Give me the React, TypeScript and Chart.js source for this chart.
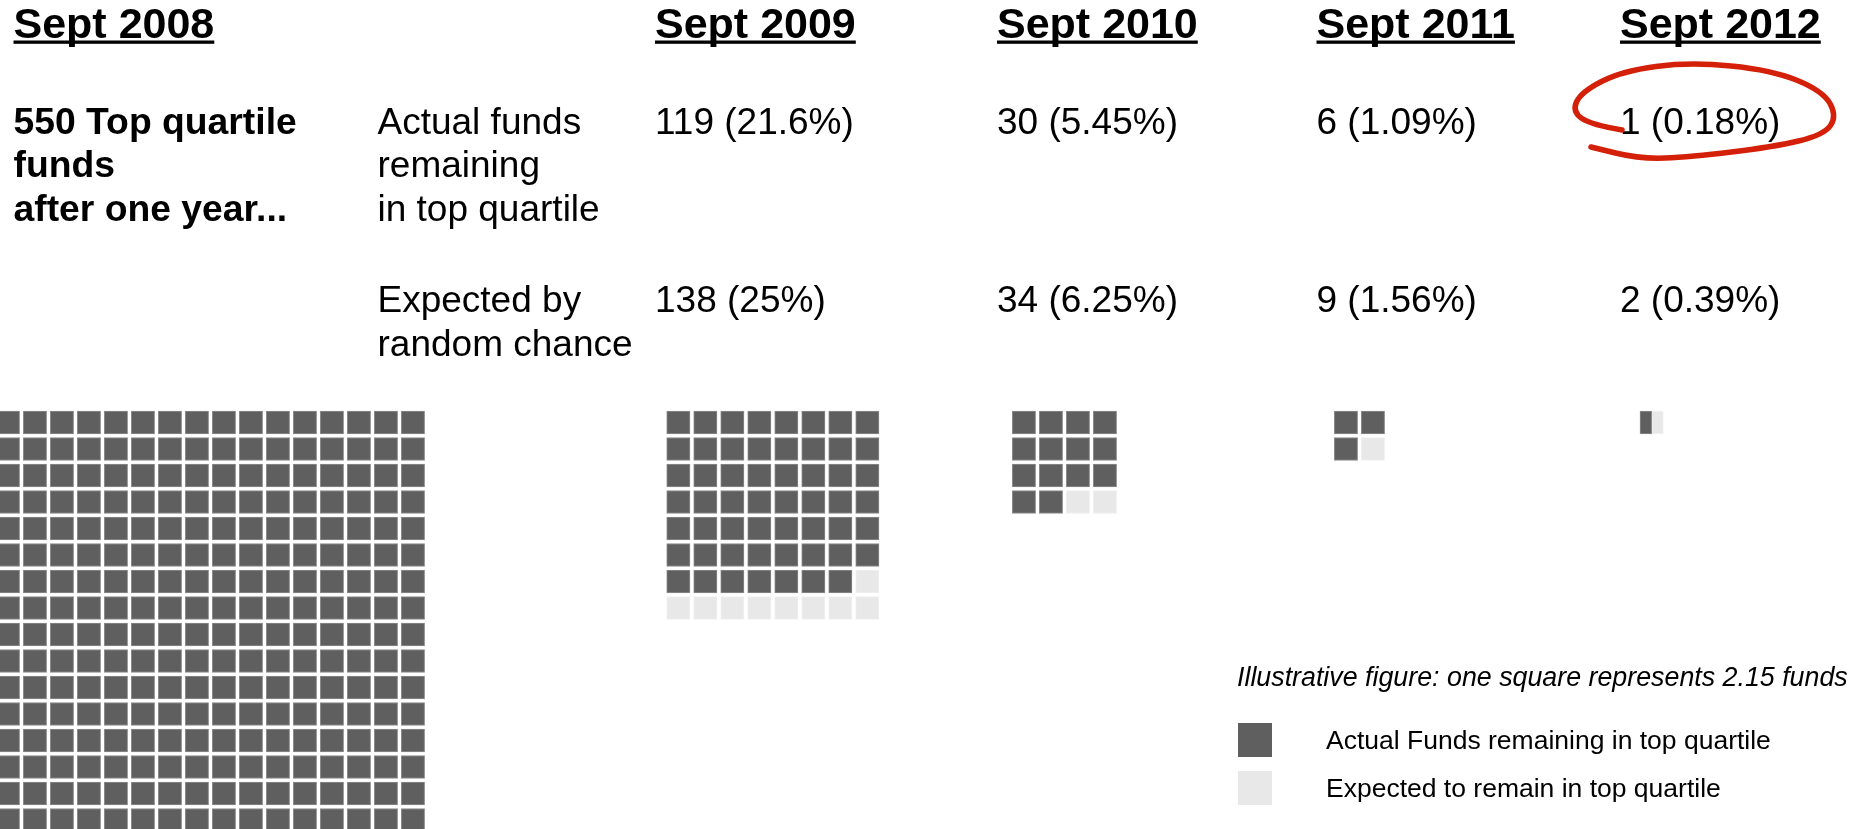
import React, { useEffect, useRef } from "react";
import { Chart, registerables } from "chart.js";

Chart.register(...registerables);

// ---------------- data ----------------
const periods = ["Sept 2008", "Sept 2009", "Sept 2010", "Sept 2011", "Sept 2012"];
const actualFunds = [550, 119, 30, 6, 1];
const actualPct = [100, 21.6, 5.45, 1.09, 0.18];
const expectedFunds = [550, 138, 34, 9, 2];
const expectedPct = [100, 25, 6.25, 1.56, 0.39];
const actualSquares = [256, 55, 14, 3, 0.5];
const expectedSquares = [256, 64, 16, 4, 1];
const fundsPerSquare = 2.15;
const seriesLabels = ["Actual Funds remaining in top quartile", "Expected to remain in top quartile"];

// ---------------- layout / style ----------------
const W = 1849;
const H = 829;
const FONT = '"Liberation Sans", Arial, Helvetica, sans-serif';
const COL_X = [13.5, 655, 997, 1316.5, 1620];
const GRID_LEFT = [-3.7, 666.7, 1012.3, 1334.3, 1640];
const GRID_TOP = 411;
const PITCH_X = 27;
const PITCH_Y = 26.5;
const CELL_W = 23.3;
const CELL_H = 23;
const DARK = "#5f5f5f";
const DARK_BORDER = "#8c8c8c";
const LIGHT = "#e8e8e8";
const LIGHT_BORDER = "#f0f0f0";
const RED = "#d42008";

function fmtPct(v: number) {
  return `${v}%`;
}

const textPlugin = {
  id: "waffleText",
  afterDraw(chart: any) {
    const ctx: CanvasRenderingContext2D = chart.ctx;
    ctx.save();
    ctx.fillStyle = "#000";
    ctx.textBaseline = "alphabetic";
    ctx.textAlign = "left";

    // column titles with underline
    ctx.font = `bold 43px ${FONT}`;
    periods.forEach((t, i) => {
      ctx.fillText(t, COL_X[i], 37.5);
      const w = ctx.measureText(t).width;
      ctx.fillRect(COL_X[i], 40.5, w, 3.3);
    });

    const lh = 43.5;
    const b1 = 133.5;
    const b2 = 312;

    ctx.font = `bold 37.3px ${FONT}`;
    [`${actualFunds[0]} Top quartile`, "funds", "after one year..."].forEach((t, k) =>
      ctx.fillText(t, COL_X[0], b1 + k * lh)
    );

    ctx.font = `37px ${FONT}`;
    ["Actual funds", "remaining", "in top quartile"].forEach((t, k) => ctx.fillText(t, 377.5, b1 + k * lh));
    ["Expected by", "random chance"].forEach((t, k) => ctx.fillText(t, 377.5, b2 + k * lh));

    for (let p = 1; p < periods.length; p++) {
      ctx.fillText(`${actualFunds[p]} (${fmtPct(actualPct[p])})`, COL_X[p], b1);
      ctx.fillText(`${expectedFunds[p]} (${fmtPct(expectedPct[p])})`, COL_X[p], b2);
    }

    // legend
    ctx.font = `italic 26.8px ${FONT}`;
    ctx.fillText(`Illustrative figure: one square represents ${fundsPerSquare} funds`, 1237, 686);
    ctx.font = `26.5px ${FONT}`;
    const ds = chart.data.datasets;
    const legY = [723, 771];
    ds.forEach((d: any, i: number) => {
      ctx.fillStyle = d.backgroundColor;
      ctx.fillRect(1238, legY[i], 34, 34);
      ctx.fillStyle = "#000";
      ctx.fillText(d.label, 1326, legY[i] + 26);
    });

    // hand-drawn red ellipse around the last actual value
    const pts = [
      [1622, 130], [1592, 125], [1572, 112], [1581, 92], [1622, 71], [1690, 62],
      [1772, 70], [1823, 91], [1837, 116], [1824, 135], [1773, 147], [1690, 157],
      [1640, 159], [1591, 147],
    ];
    ctx.strokeStyle = RED;
    ctx.lineWidth = 5.5;
    ctx.lineCap = "round";
    ctx.lineJoin = "round";
    ctx.beginPath();
    ctx.moveTo(pts[0][0], pts[0][1]);
    for (let i = 1; i < pts.length - 1; i++) {
      const mx = (pts[i][0] + pts[i + 1][0]) / 2;
      const my = (pts[i][1] + pts[i + 1][1]) / 2;
      ctx.quadraticCurveTo(pts[i][0], pts[i][1], mx, my);
    }
    const last = pts[pts.length - 1];
    ctx.lineTo(last[0], last[1]);
    ctx.stroke();
    ctx.restore();
  },
};

export default function App() {
  const ref = useRef<HTMLCanvasElement>(null);

  useEffect(() => {
    const actualCells: any[] = [];
    const expectedCells: any[] = [];
    for (let p = 0; p < periods.length; p++) {
      const cols = Math.ceil(Math.sqrt(expectedSquares[p]));
      const full = Math.floor(actualSquares[p]);
      const frac = actualSquares[p] - full;
      const cell = (i: number) => {
        const r = Math.floor(i / cols);
        const c = i % cols;
        return { left: GRID_LEFT[p] + c * PITCH_X, yc: GRID_TOP + r * PITCH_Y + CELL_H / 2 };
      };
      for (let i = 0; i < full; i++) {
        const { left, yc } = cell(i);
        actualCells.push({ x: [left, left + CELL_W], y: yc });
      }
      let start = full;
      if (frac > 0) {
        const { left, yc } = cell(full);
        actualCells.push({ x: [left, left + frac * CELL_W], y: yc });
        expectedCells.push({ x: [left + frac * CELL_W, left + CELL_W], y: yc });
        start = full + 1;
      }
      for (let i = start; i < expectedSquares[p]; i++) {
        const { left, yc } = cell(i);
        expectedCells.push({ x: [left, left + CELL_W], y: yc });
      }
    }

    const chart = new Chart(ref.current as HTMLCanvasElement, {
      type: "bar",
      data: {
        datasets: [
          {
            label: seriesLabels[0],
            data: actualCells,
            backgroundColor: DARK,
            borderColor: DARK_BORDER,
            borderWidth: 1,
            borderSkipped: false,
            grouped: false,
            barThickness: CELL_H,
          } as any,
          {
            label: seriesLabels[1],
            data: expectedCells,
            backgroundColor: LIGHT,
            borderColor: LIGHT_BORDER,
            borderWidth: 1,
            borderSkipped: false,
            grouped: false,
            barThickness: CELL_H,
          } as any,
        ],
      },
      options: {
        indexAxis: "y",
        responsive: false,
        maintainAspectRatio: false,
        animation: false,
        devicePixelRatio: 1,
        layout: { padding: 0 },
        scales: {
          x: { type: "linear", min: 0, max: W, display: false, offset: false },
          y: { type: "linear", min: 0, max: H, reverse: true, display: false, offset: false, grid: { offset: false } },
        },
        plugins: {
          legend: { display: false },
          tooltip: { enabled: false },
          title: { display: false },
        },
      } as any,
      plugins: [textPlugin],
    });
    return () => chart.destroy();
  }, []);

  return (
    <div style={{ position: "fixed", left: 0, top: 0, width: W, height: H, background: "#fff" }}>
      <canvas ref={ref} width={W} height={H} style={{ width: W, height: H, display: "block" }} />
    </div>
  );
}
